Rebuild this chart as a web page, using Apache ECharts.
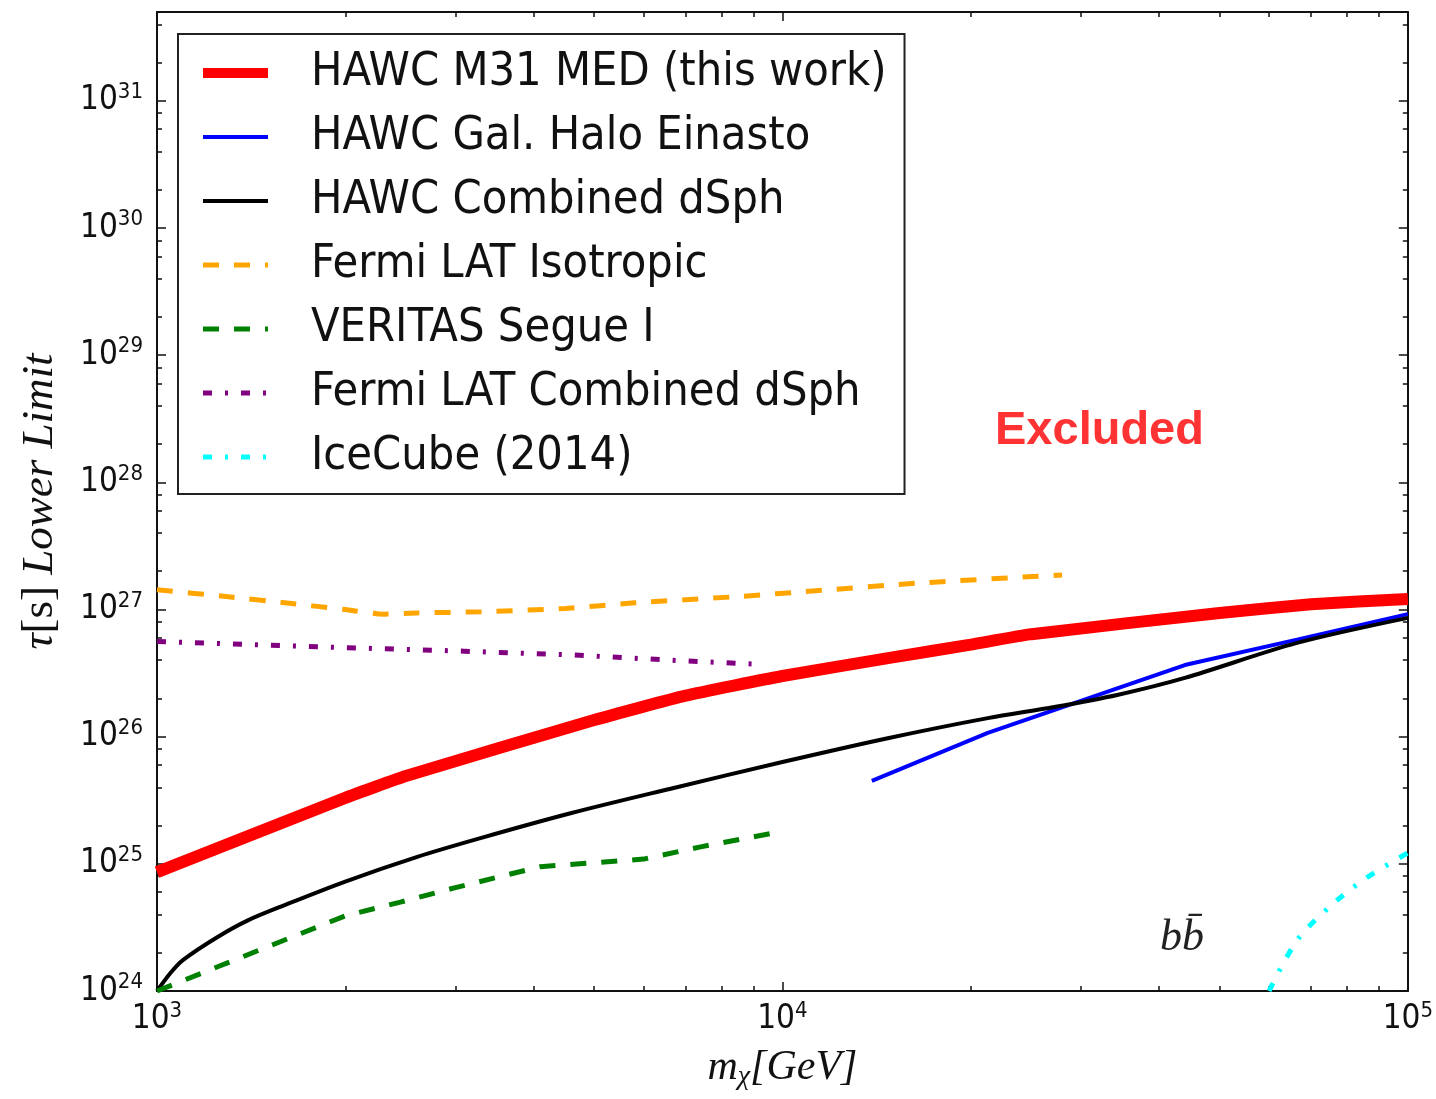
<!DOCTYPE html>
<html>
<head>
<meta charset="utf-8">
<title>Lifetime lower limits</title>
<script src="https://cdn.jsdelivr.net/npm/echarts@6/dist/echarts.min.js"></script>
<style>
    html, body { margin: 0; padding: 0; background: #fff; }
    #main { width: 1436px; height: 1099px; }
</style>
</head>
<body>
<div id="main"></div>
<script>
// [m_chi (GeV), tau lower limit (s)]
var m31Med = [[1000, 8.6e24], [2000, 3.3e25], [2500, 4.9e25], [5000, 1.35e26], [7000, 2.1e26],
    [10000, 3.0e26], [15000, 4.2e26], [20000, 5.3e26], [25000, 6.4e26], [50000, 9.4e26],
    [70000, 1.1e27], [100000, 1.21e27]];
var galHalo = [[13900, 4.5e25], [21300, 1.07e26], [44000, 3.66e26], [66500, 5.8e26], [100000, 9.2e26]];
var hawcDsph = [[1000, 1.0e24], [1050, 1.38e24], [1100, 1.75e24], [1250, 2.66e24], [1400, 3.61e24],
    [1600, 4.74e24], [2000, 7.26e24], [2600, 1.13e25], [3300, 1.6e25], [4600, 2.51e25],
    [6600, 3.88e25], [10000, 6.32e25], [14800, 9.77e25], [21300, 1.4e26], [27200, 1.71e26],
    [34300, 2.13e26], [44000, 2.9e26], [66500, 5.46e26], [100000, 8.6e26]];
var fermiIso = [[1000, 1.43e27], [1300, 1.26e27], [1600, 1.13e27], [2000, 1.0e27], [2300, 9.2e26],
    [2600, 9.4e26], [3300, 9.6e26], [4500, 1.02e27], [5800, 1.13e27], [8400, 1.26e27],
    [10600, 1.37e27], [16700, 1.62e27], [28000, 1.87e27]];
var veritas = [[1000, 1.0e24], [1250, 1.55e24], [1600, 2.52e24], [2000, 3.9e24], [2450, 5.0e24],
    [3000, 6.5e24], [4100, 9.5e24], [6000, 1.09e25], [7400, 1.36e25], [9700, 1.75e25]];
var fermiDsph = [[1000, 5.6e26], [1800, 5.1e26], [3100, 4.7e26], [4600, 4.4e26], [6600, 4.0e26], [9300, 3.7e26]];
var iceCube = [[60000, 1.0e24], [66500, 2.5e24], [75000, 4.6e24], [85000, 7.5e24], [100000, 1.22e25]];

// axis ticks
var xMajor = [1e3, 1e4, 1e5];
var xMinor = [2e3, 3e3, 4e3, 5e3, 6e3, 7e3, 8e3, 9e3, 2e4, 3e4, 4e4, 5e4, 6e4, 7e4, 8e4, 9e4];
var yMajor = [1e24, 1e25, 1e26, 1e27, 1e28, 1e29, 1e30, 1e31];
var yMinorSubs = [2, 4, 6, 8];
var xRange = [1e3, 1e5];
var yRange = [1e24, 5e31];

(function () {

    app = {

        init: function () {
            this.chart = echarts.init(document.getElementById('main'), null, { renderer: 'canvas' });
            this.chart.setOption(this.option());
        },

        // minor ticks on the y axis: 2,4,6,8 x 10^n
        yMinor: function () {
            var out = [];
            for (var i = 0; i < yMajor.length; i++) {
                for (var j = 0; j < yMinorSubs.length; j++) {
                    var v = yMajor[i] * yMinorSubs[j];
                    if (v < yRange[1]) out.push(v);
                }
            }
            return out;
        },

        powLabel: function (v) {
            var e = Math.round(Math.log(v) / Math.LN10);
            return '{b|10}{s|' + e + '}';
        },

        // one axis: either the labelled major one or a bare minor-tick copy
        axis: function (dim, pos, range, ticks, len, major, extra) {
            var self = this;
            var sans = '"DejaVu Sans Condensed", "DejaVu Sans"';
            var ax = {
                type: 'log',
                logBase: 10,
                position: pos,
                min: range[0],
                max: range[1],
                splitLine: { show: false },
                axisLine: { show: major, onZero: false, lineStyle: { color: '#111', width: 2 } },
                axisTick: { show: true, inside: true, length: len, customValues: ticks,
                    lineStyle: { color: '#111', width: 1.5 } },
                axisLabel: { show: false }
            };
            if (extra) {
                ax.axisLabel = {
                    show: true,
                    customValues: ticks,
                    margin: dim === 'x' ? 9 : 14,
                    color: '#111',
                    fontFamily: sans,
                    formatter: function (v) { return self.powLabel(v); },
                    rich: {
                        b: { fontSize: 33, fontFamily: sans, color: '#111' },
                        s: { fontSize: 22, fontFamily: sans, color: '#111', padding: [0, 0, 17, 0] }
                    }
                };
                for (var k in extra) ax[k] = extra[k];
            }
            return ax;
        },

        option: function () {
            var yMinor = this.yMinor();
            var serif = '"Liberation Serif", "DejaVu Serif", serif';

            var xAxes = [
                this.axis('x', 'bottom', xRange, xMajor, 9, true, {
                    name: '{i|m}{sub|χ}{i|[GeV]}',
                    nameLocation: 'middle',
                    nameGap: 54,
                    nameTextStyle: {
                        rich: {
                            i: { fontSize: 42, fontStyle: 'italic', fontFamily: serif, color: '#111' },
                            sub: { fontSize: 28, fontStyle: 'italic', fontFamily: serif, color: '#111',
                                padding: [18, 0, 0, 0] }
                        }
                    }
                }),
                this.axis('x', 'bottom', xRange, xMinor, 5, false),
                this.axis('x', 'top', xRange, xMajor, 9, true),
                this.axis('x', 'top', xRange, xMinor, 5, false)
            ];
            var yAxes = [
                this.axis('y', 'left', yRange, yMajor, 9, true, {
                    name: '{i|τ}{r|[s]}{i| Lower Limit}',
                    nameLocation: 'middle',
                    nameRotate: 90,
                    nameGap: 94,
                    nameTextStyle: {
                        rich: {
                            i: { fontSize: 45, fontStyle: 'italic', fontFamily: serif, color: '#111' },
                            r: { fontSize: 45, fontFamily: serif, color: '#111' }
                        }
                    }
                }),
                this.axis('y', 'left', yRange, yMinor, 5, false),
                this.axis('y', 'right', yRange, yMajor, 9, true),
                this.axis('y', 'right', yRange, yMinor, 5, false)
            ];
            for (var i = 0; i < 4; i++) {
                xAxes[i].gridIndex = 0;
                yAxes[i].gridIndex = 0;
            }

            var line = function (name, data, color, width, dash, smooth) {
                return {
                    name: name,
                    type: 'line',
                    data: data,
                    symbol: 'none',
                    showSymbol: false,
                    smooth: smooth || false,
                    xAxisIndex: 0,
                    yAxisIndex: 0,
                    clip: true,
                    itemStyle: { color: color },
                    lineStyle: { color: color, width: width, type: dash || 'solid', cap: 'butt' },
                    emphasis: { disabled: true }
                };
            };

            var dashed = [16, 15];
            var dashDot = [9, 13, 3, 13];

            var series = [
                line('HAWC M31 MED (this work)', m31Med, '#ff0000', 12, null, 0.15),
                line('HAWC Gal. Halo Einasto', galHalo, '#0000ff', 4),
                line('HAWC Combined dSph', hawcDsph, '#000000', 4, null, 0.3),
                line('Fermi LAT Isotropic', fermiIso, '#ffa500', 5, dashed, 0.2),
                line('VERITAS Segue I', veritas, '#008000', 5, dashed),
                line('Fermi LAT Combined dSph', fermiDsph, '#800080', 5, dashDot),
                line('IceCube (2014)', iceCube, '#00ffff', 5, dashDot, 0.3)
            ];

            var legendData = series.map(function (s) {
                return {
                    name: s.name,
                    itemStyle: { opacity: 0 },
                    lineStyle: { width: s.lineStyle.width === 12 ? 10 : s.lineStyle.width, type: s.lineStyle.type }
                };
            });

            return {
                backgroundColor: '#ffffff',
                animation: false,
                grid: { left: 157, right: 25, top: 12, bottom: 108, containLabel: false },
                xAxis: xAxes,
                yAxis: yAxes,
                legend: {
                    data: legendData,
                    orient: 'vertical',
                    left: 178,
                    top: 34,
                    padding: [14, 18, 12, 20],
                    itemWidth: 65,
                    itemHeight: 14,
                    itemGap: 14,
                    itemStyle: { opacity: 0 },
                    backgroundColor: '#ffffff',
                    borderColor: '#222',
                    borderWidth: 2,
                    selectedMode: false,
                    textStyle: {
                        fontFamily: '"DejaVu Sans Condensed", "DejaVu Sans"',
                        fontSize: 46.5,
                        color: '#111',
                        lineHeight: 50,
                        padding: [0, 0, 0, 38]
                    }
                },
                graphic: [
                    {
                        type: 'text',
                        x: 995,
                        y: 431,
                        style: {
                            text: 'Excluded',
                            fontFamily: '"Liberation Sans", Arial, sans-serif',
                            fontWeight: 'bold',
                            fontSize: 47,
                            fill: '#ff3333',
                            verticalAlign: 'middle'
                        }
                    },
                    {
                        type: 'text',
                        x: 1160,
                        y: 938,
                        style: {
                            text: 'bb\u0304',
                            fontFamily: serif,
                            fontStyle: 'italic',
                            fontSize: 44,
                            fill: '#222',
                            verticalAlign: 'middle'
                        }
                    }
                ],
                series: series
            };
        }
    };
})();

app.init();
</script>
</body>
</html>
